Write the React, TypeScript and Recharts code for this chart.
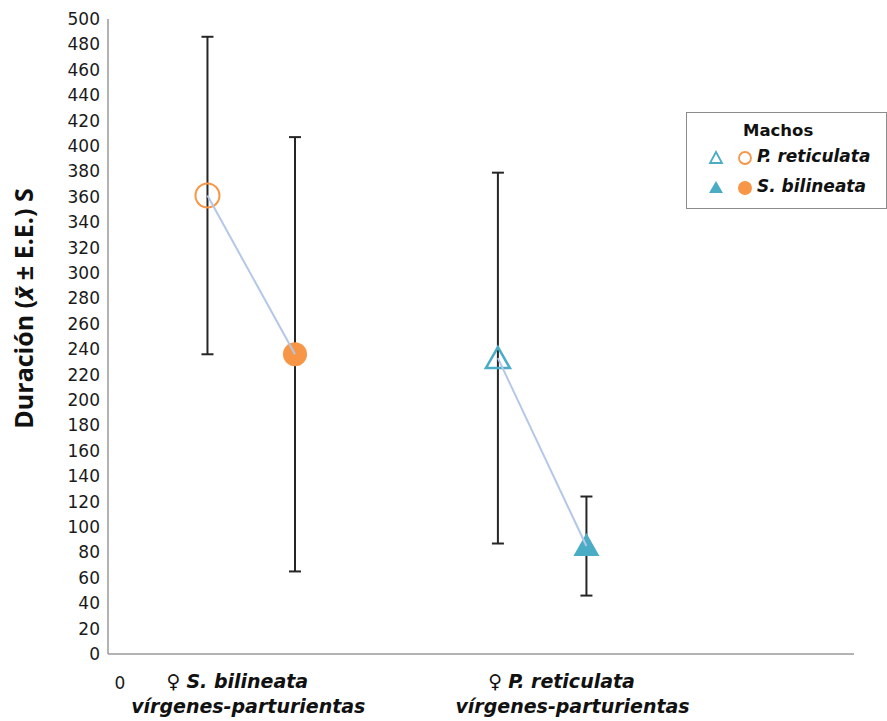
import React from 'react';
import { ScatterChart, Scatter, XAxis, YAxis, ErrorBar, Label } from 'recharts';

// Female groups on the x axis
const groupNames = ['S. bilineata', 'P. reticulata'];
const groupState = 'vírgenes-parturientas';
const groupTickX = [1.33, 4.59];

// Males: P. reticulata (open markers), S. bilineata (filled markers)
const reticulataX = [1.0, 3.92];
const reticulataMean = [361, 233];
const reticulataErr = [125, 146];

const bilineataX = [1.88, 4.81];
const bilineataMean = [236, 85];
const bilineataErr = [171, 39];

const yTicks = Array.from({ length: 26 }, (_, i) => i * 20);

const ORANGE = '#F79646';
const TEAL = '#4BACC6';
const LINK = '#B4C7E7';
const TICK_FONT = '"DejaVu Sans", sans-serif';

const reticulataData = reticulataX.map((x, i) => ({ x, y: reticulataMean[i], err: reticulataErr[i], group: i }));
const bilineataData = bilineataX.map((x, i) => ({ x, y: bilineataMean[i], err: bilineataErr[i], group: i }));
const links = [0, 1].map((i) => [reticulataData[i], bilineataData[i]]);

const OpenMarker = (props: any) => {
  const { cx, cy, payload } = props;
  if (payload.group === 0) {
    return <circle cx={cx} cy={cy} r={12} fill="none" stroke={ORANGE} strokeWidth={2} />;
  }
  return (
    <polygon
      points={`${cx},${cy - 11} ${cx - 12},${cy + 10} ${cx + 12},${cy + 10}`}
      fill="none"
      stroke={TEAL}
      strokeWidth={2.5}
    />
  );
};

const FilledMarker = (props: any) => {
  const { cx, cy, payload } = props;
  if (payload.group === 0) {
    return <circle cx={cx} cy={cy} r={12} fill={ORANGE} />;
  }
  return <polygon points={`${cx},${cy - 13} ${cx - 13},${cy + 10} ${cx + 13},${cy + 10}`} fill={TEAL} />;
};

const NoMarker = () => <g />;

const XTick = (props: any) => {
  const { x, y, payload } = props;
  if (payload.value === 0) {
    return (
      <text x={x + 12} y={y + 27} textAnchor="middle" fontFamily={TICK_FONT} fontSize={17} fill="#1a1a1a">
        0
      </text>
    );
  }
  const idx = groupTickX.indexOf(payload.value);
  return (
    <g fontFamily={TICK_FONT} fontSize={19} fontWeight="bold" fontStyle="italic" fill="#111">
      <text x={x - 3} y={y + 26} textAnchor="middle">
        <tspan fontWeight="normal" fontStyle="normal">♀ </tspan>
        {groupNames[idx]}
      </text>
      <text x={x + 8} y={y + 51} textAnchor="middle">
        {groupState}
      </text>
    </g>
  );
};

const YLabel = (props: any) => {
  const { viewBox } = props;
  const x = 23;
  const y = viewBox.y + viewBox.height / 2 - 28;
  return (
    <text
      x={x}
      y={y}
      transform={`rotate(-90, ${x}, ${y})`}
      textAnchor="middle"
      dominantBaseline="central"
      fontFamily='"Open Sans", sans-serif'
      fontWeight="bold"
      fontSize={25}
      fill="#111"
    >
      Duración (<tspan fontStyle="italic">x̄</tspan> ± E.E.) S
    </text>
  );
};

const LegendBox = () => (
  <div
    style={{
      position: 'absolute',
      left: 686,
      top: 112,
      width: 199,
      height: 95,
      border: '1.5px solid #8c8c8c',
      background: '#fff',
      fontFamily: TICK_FONT,
      color: '#111',
    }}
  >
    <div style={{ position: 'absolute', left: 56, top: 8, fontSize: 16.5, fontWeight: 'bold' }}>Machos</div>
    <svg width={70} height={95} style={{ position: 'absolute', left: 0, top: 0 }}>
      <polygon points="29,39 23,50 35,50" fill="none" stroke={TEAL} strokeWidth={1.8} />
      <circle cx={58} cy={45} r={6} fill="none" stroke={ORANGE} strokeWidth={1.8} />
      <polygon points="29,68 22,80 36,80" fill={TEAL} />
      <circle cx={58} cy={75} r={7} fill={ORANGE} />
    </svg>
    <div style={{ position: 'absolute', left: 70, top: 33, fontSize: 17, fontWeight: 'bold', fontStyle: 'italic' }}>
      P. reticulata
    </div>
    <div style={{ position: 'absolute', left: 70, top: 63, fontSize: 17, fontWeight: 'bold', fontStyle: 'italic' }}>
      S. bilineata
    </div>
  </div>
);

export default function App() {
  return (
    <div style={{ position: 'absolute', left: 0, top: 0, width: 887, height: 721, background: '#fff' }}>
      <ScatterChart width={887} height={721} margin={{ top: 19, right: 33, bottom: 0, left: 0 }}>
        <XAxis
          type="number"
          dataKey="x"
          domain={[0, 7.5]}
          ticks={[0, ...groupTickX]}
          tick={<XTick />}
          tickLine={false}
          axisLine={{ stroke: '#9a9a9a', strokeWidth: 1.5 }}
          height={67}
          interval={0}
        />
        <YAxis
          type="number"
          dataKey="y"
          domain={[0, 500]}
          ticks={yTicks}
          interval={0}
          width={108}
          tickLine={false}
          axisLine={{ stroke: '#9a9a9a', strokeWidth: 1.5 }}
          tick={{ fontFamily: TICK_FONT, fontSize: 17, fill: '#1a1a1a' }}
        >
          <Label content={<YLabel />} />
        </YAxis>
        <Scatter name="P. reticulata" data={reticulataData} shape={<OpenMarker />} isAnimationActive={false}>
          <ErrorBar dataKey="err" direction="y" width={6} stroke="#262626" strokeWidth={2} />
        </Scatter>
        <Scatter name="S. bilineata" data={bilineataData} shape={<FilledMarker />} isAnimationActive={false}>
          <ErrorBar dataKey="err" direction="y" width={6} stroke="#262626" strokeWidth={2} />
        </Scatter>
        {links.map((pair, i) => (
          <Scatter
            key={i}
            data={pair}
            line={{ stroke: LINK, strokeWidth: 2 }}
            shape={<NoMarker />}
            isAnimationActive={false}
          />
        ))}
      </ScatterChart>
      <LegendBox />
    </div>
  );
}
